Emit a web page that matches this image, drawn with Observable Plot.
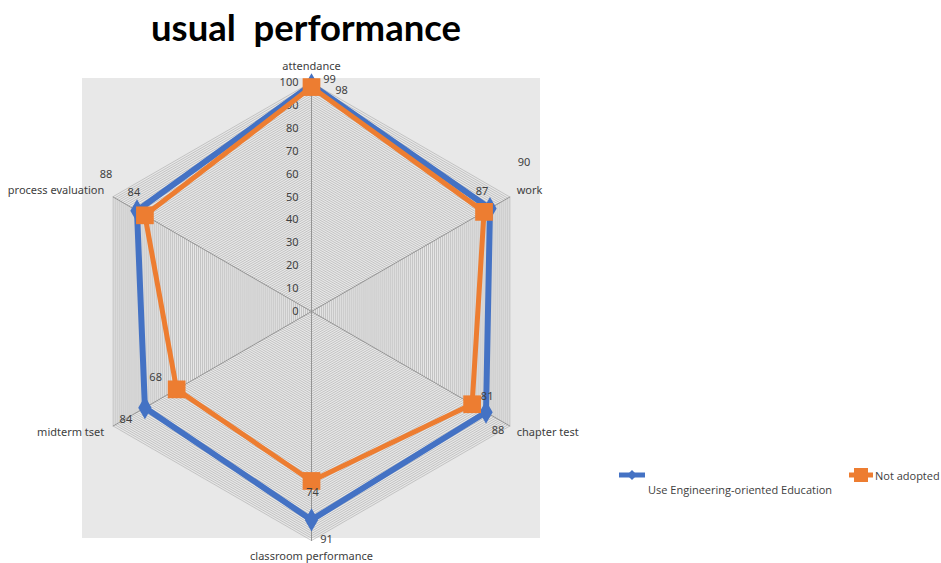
<!DOCTYPE html>
<html><head><meta charset="utf-8">
<script src="https://cdn.jsdelivr.net/npm/d3@7"></script>
<script src="https://cdn.jsdelivr.net/npm/@observablehq/plot@0.6"></script>
<style>
body{margin:0;background:#fff;font-family:"Open Sans",sans-serif;}
#wrap{position:relative;width:941px;height:563px;overflow:hidden;}
#panel{position:absolute;left:82px;top:78px;width:458px;height:460px;background:#e8e8e8;}
#title{position:absolute;left:0;width:612px;top:5px;text-align:center;font-family:Lato,sans-serif;font-weight:bold;font-size:36.5px;color:#000;white-space:pre;}
#chart{position:absolute;left:0;top:0;}
.leg{position:absolute;font-size:11px;color:#404040;white-space:nowrap;font-family:"Open Sans",sans-serif;}
</style></head>
<body><div id="wrap"><div id="panel"></div><div id="title">usual  performance</div><div id="chart"></div>
<div class="leg" style="left:617px;top:467px"><svg width="32" height="16"><line x1="2" x2="28" y1="8" y2="8" stroke="#4472C4" stroke-width="5"/><path d="M15 3 L20 8 L15 13 L10 8Z" fill="#4472C4"/></svg></div>
<div class="leg" style="left:648px;top:482px">Use Engineering-oriented Education</div>
<div class="leg" style="left:847px;top:466px;display:flex;align-items:center"><svg width="28" height="18"><line x1="2" x2="26" y1="9" y2="9" stroke="#ED7D31" stroke-width="5"/><rect x="7" y="2" width="14" height="14" fill="#ED7D31"/></svg><span>Not adopted</span></div>
</div>
<script>
// ---- data ----
const categories = ["attendance","work","chapter test","classroom performance","midterm tset","process evaluation"];
const seriesNames = ["Use Engineering-oriented Education","Not adopted"];
const engineering = [99,90,88,91,84,88];
const notAdopted = [98,87,81,74,68,84];
const tickValues = [0,10,20,30,40,50,60,70,80,90,100];

// ---- layout (label nudges in px, relative to each marker) ----
const labelNudge = [
  [[18,-5],[34,-46],[12,18],[15,20],[-19,12],[-31,-36]],
  [[30,3],[-2,-20],[15,-8],[1,12],[-21,-12],[-11,-23]]
];
const colors = ["#4472C4","#ED7D31"];
const W = 941, H = 563, cx = 311, cy = 311, k = 2.29; // px per unit

const n = categories.length;
const ang = i => i * 2 * Math.PI / n;
const pt = (i, r) => ({x: r * Math.sin(ang(i)), y: r * Math.cos(ang(i))});

const seriesData = [engineering, notAdopted].map((arr, s) =>
  arr.map((v, i) => ({series: seriesNames[s], s, cat: categories[i], i, value: v, ...pt(i, v)})));
const valLabels = seriesData.flat().map(d => ({...d,
  lx: d.x + labelNudge[d.s][d.i][0] / k, ly: d.y - labelNudge[d.s][d.i][1] / k}));

const grid = [];
for (let g = 1; g <= 100; g++) for (let i = 0; i < n; i++) grid.push({g, ...pt(i, g)});
const spokes = [];
categories.forEach((c, i) => { spokes.push({c, x: 0, y: 0}); spokes.push({c, ...pt(i, 100)}); });

const catTB = categories.map((c, i) => ({c, i, ...pt(i, 107)})).filter(d => d.i === 0 || d.i === 3);
const catR = categories.map((c, i) => ({c, i, ...pt(i, 106)})).filter(d => d.i === 1 || d.i === 2);
const catL = categories.map((c, i) => ({c, i, ...pt(i, 106)})).filter(d => d.i === 4 || d.i === 5);

const txt = {fontSize: 11, fill: "#404040"};
const chart = Plot.plot({
  width: W, height: H, margin: 0,
  x: {domain: [-cx / k, (W - cx) / k], range: [0, W], axis: null},
  y: {domain: [-(H - cy) / k, cy / k], range: [H, 0], axis: null},
  marks: [
    Plot.line(grid, {x: "x", y: "y", z: "g", curve: "linear-closed", stroke: "#a8a8a8", strokeWidth: 0.6}),
    Plot.line(spokes, {x: "x", y: "y", z: "c", stroke: "#8c8c8c", strokeWidth: 0.9}),
    Plot.text(tickValues, {x: 0, y: d => d, text: d => String(d), textAnchor: "end", dx: -13, ...txt}),
    Plot.line(seriesData[0], {x: "x", y: "y", curve: "linear-closed", stroke: colors[0], strokeWidth: 6, strokeLinejoin: "miter"}),
    Plot.dot(seriesData[0], {x: "x", y: "y", symbol: "diamond", r: 7, fill: colors[0], stroke: "none"}),
    Plot.line(seriesData[1], {x: "x", y: "y", curve: "linear-closed", stroke: colors[1], strokeWidth: 5, strokeLinejoin: "miter"}),
    Plot.dot(seriesData[1], {x: "x", y: "y", symbol: "square", r: 10, fill: colors[1], stroke: "none"}),
    Plot.text(valLabels, {x: "lx", y: "ly", text: d => String(d.value), ...txt}),
    Plot.text(catTB, {x: "x", y: "y", text: "c", ...txt}),
    Plot.text(catR, {x: "x", y: "y", text: "c", textAnchor: "start", dx: -5, ...txt}),
    Plot.text(catL, {x: "x", y: "y", text: "c", textAnchor: "end", dx: 3, ...txt})
  ]
});
chart.style.background = "transparent";
document.getElementById("chart").appendChild(chart);
</script></body></html>
